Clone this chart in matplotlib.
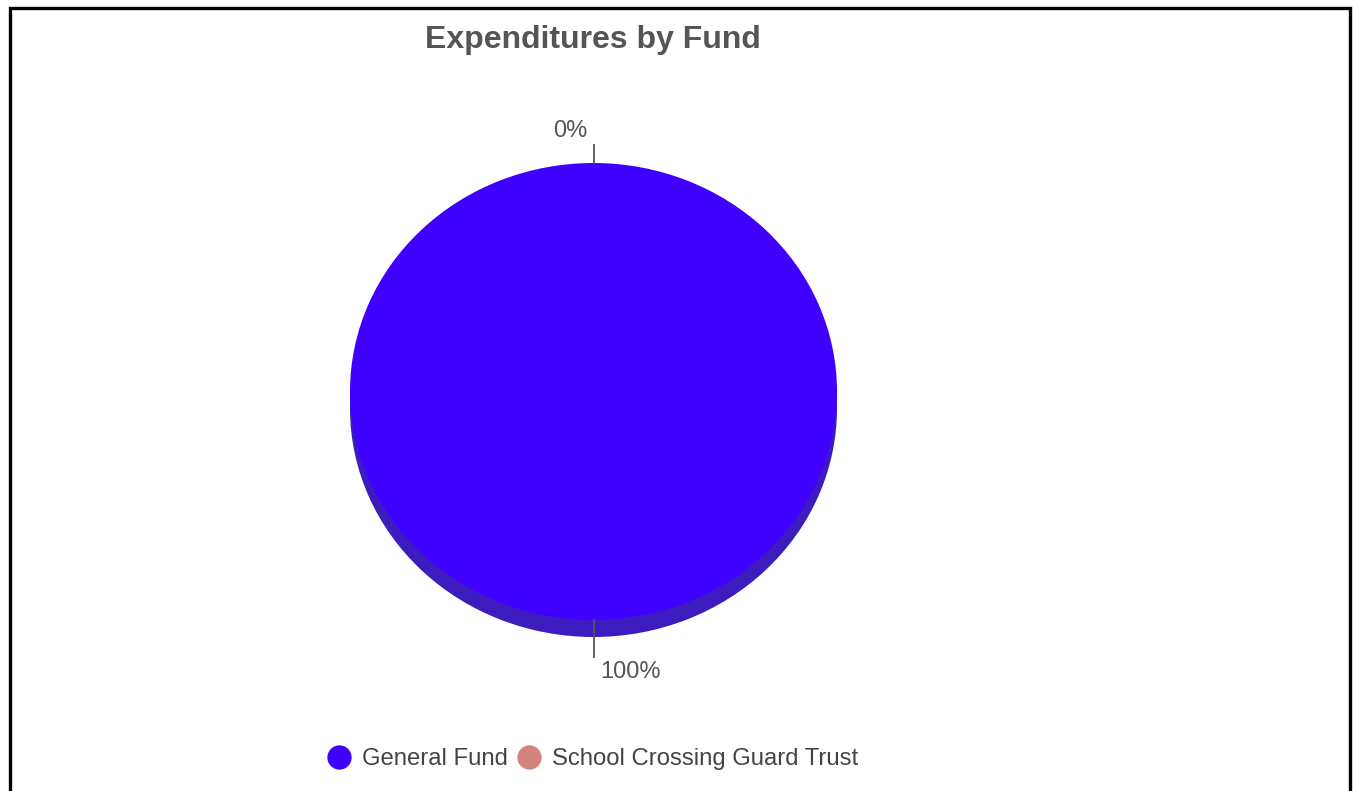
import matplotlib
matplotlib.use("Agg")
import matplotlib.pyplot as plt
from matplotlib.lines import Line2D
import numpy as np

plt.rcParams['font.family'] = ['Liberation Sans', 'DejaVu Sans']

# ---- data ----
title = "Expenditures by Fund"
funds = ["General Fund", "School Crossing Guard Trust"]
shares = [100, 0]          # percent of expenditures
pct_labels = ["100%", "0%"]
colors = ["#4000FF", "#D4847F"]
side_colors = ["#3C1CBE", "#B07070"]

W, H = 1353, 791
fig = plt.figure(figsize=(W / 100, H / 100), dpi=100)
fig.patch.set_facecolor("white")

def fx(px):
    return px / W

def fy(py):
    return 1 - py / H

# pie axes geometry (pixels)
left, right, top, bottom = 350, 837, 163, 637
ry_px = 228.5
depth = 17 / ry_px
ax = fig.add_axes([fx(left), fy(bottom), (right - left) / W, (bottom - top) / H])

# side (depth) of the 3D pie
side, _ = ax.pie(shares, colors=side_colors, startangle=90, counterclock=False,
                 center=(0, -depth), wedgeprops=dict(linewidth=0), frame=False)
# top face
face, _ = ax.pie(shares, colors=colors, startangle=90, counterclock=False,
                 wedgeprops=dict(linewidth=0), frame=False)
for w in side + face:
    w.set_clip_on(False)
ax.set_aspect('auto')
ax.set_xlim(-1, 1)
ax.set_ylim(-1 - depth, 1)
ax.axis('off')

# data labels with connectors
total = float(sum(shares))
cum = 0.0
for val, lab in zip(shares, pct_labels):
    frac = val / total
    mid = np.deg2rad(90 - 360 * (cum + frac / 2))
    cum += frac
    cx, cy = np.cos(mid), np.sin(mid)
    ext = 18 / ry_px + (19 / ry_px if cy < 0 else 0)
    x0, y0 = cx, cy
    x1, y1 = cx * (1 + ext), cy * (1 + ext)
    ax.add_line(Line2D([x0, x1], [y0, y1], color="#555555", lw=1.3,
                       clip_on=False, zorder=5))
    if cy >= 0:
        off = (-6 * 0.72, 14 * 0.72)
        ha = 'right'
    else:
        off = (7 * 0.72, -15 * 0.72)
        ha = 'left'
    ax.annotate(lab, xy=(x1, y1), xytext=off, textcoords='offset points',
                ha=ha, va='center', fontsize=17, color="#555555",
                annotation_clip=False)

# title
fig.text(fx(593), fy(40), title, ha='center', va='center', fontsize=23,
         fontweight='bold', color="#555555")

# legend
handles = [Line2D([], [], marker='o', linestyle='none', markersize=17.5,
                  markerfacecolor=c, markeredgewidth=0) for c in colors]
leg = fig.legend(handles, funds, loc='center',
                 bbox_to_anchor=(fx(592.5), fy(759)), ncol=2, frameon=False,
                 fontsize=17.2, handlelength=1.0, handletextpad=0.45,
                 columnspacing=0.38, borderpad=0, borderaxespad=0)
for t in leg.get_texts():
    t.set_color("#444444")

# outer frame (top, left, right)
fig.add_artist(Line2D([fx(9.5), fx(9.5), fx(1350), fx(1350)],
                      [0, fy(7.5), fy(7.5), 0], transform=fig.transFigure,
                      color="black", lw=2.4, solid_joinstyle='miter'))

fig.savefig("out.png", dpi=100, facecolor="white")
